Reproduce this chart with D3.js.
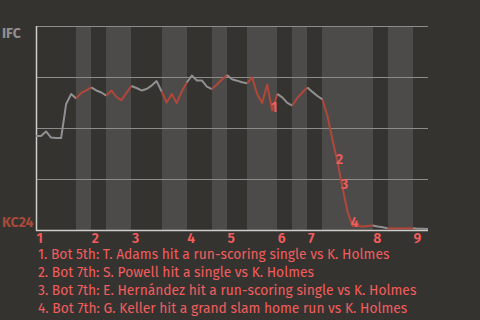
<!DOCTYPE html>
<html><head><meta charset="utf-8">
<script src="https://cdn.jsdelivr.net/npm/d3@7"></script>
<style>
html,body{margin:0;padding:0;background:#353330;}
svg{display:block;}
text{font-family:"Fira Sans","Lato","Open Sans",sans-serif;}
</style></head><body>
<svg id="c" width="480" height="320"></svg>
<script>
// IFC win probability after each plate appearance (top of chart = IFC wins)
const winProb = [0.461,0.461,0.483,0.453,0.451,0.451,0.618,0.667,0.645,0.672,
  0.684,0.699,0.684,0.674,0.659,0.684,0.652,0.637,0.672,0.706,
  0.696,0.684,0.691,0.708,0.730,0.679,0.625,0.667,0.623,0.679,
  0.723,0.757,0.733,0.733,0.703,0.691,0.713,0.738,0.760,0.739,
  0.732,0.724,0.719,0.748,0.667,0.623,0.713,0.586,0.667,0.650,
  0.623,0.610,0.647,0.674,0.699,0.677,0.657,0.640,0.559,0.441,
  0.333,0.206,0.088,0.020,0.020,0.017,0.020,0.022,0.017,0.013,
  0.008,0.008,0.008,0.008,0.008,0.008,0.006,0.006,0.005];
// plate-appearance index where each half inning starts (last = end of game)
const halfInningBreaks = [0,8,11,14,19,25,30,35,38,42,48,51,54,57,67,70,75,78];
const inningLabels = ["1","2","3","4","5","6","7","8","9"];
const yTicks = [0.25,0.5,0.75,1];
const teamTop = "IFC", teamBottom = "KC24";
const eventIdx = [47,60,61,63];
const eventNums = ["1","2","3","4"];
const eventTexts = [
  "1. Bot 5th: T. Adams hit a run-scoring single vs K. Holmes",
  "2. Bot 7th: S. Powell hit a single vs K. Holmes",
  "3. Bot 7th: E. Hernández hit a run-scoring single vs K. Holmes",
  "4. Bot 7th: G. Keller hit a grand slam home run vs K. Holmes"
];

const svg = d3.select("#c");
const L=36, R=428, T=26, B=230;
const x = d3.scaleLinear().domain([0, winProb.length-1]).range([L,R]);
const y = d3.scaleLinear().domain([0,1]).range([B,T]);

svg.append("rect").attr("width",480).attr("height",320).attr("fill","#353330");

// half-inning bands (bottom halves lighter)
const halves = d3.range(halfInningBreaks.length-1).map(k=>({s:halfInningBreaks[k],e:halfInningBreaks[k+1],bottom:k%2===1}));
svg.append("g").selectAll("rect").data(halves.filter(h=>h.bottom)).join("rect")
  .attr("x",d=>Math.round(x(d.s))).attr("width",d=>Math.round(x(d.e))-Math.round(x(d.s)))
  .attr("y",T).attr("height",B-T).attr("fill","#4d4b49");

// gridlines
svg.append("g").selectAll("line").data(yTicks).join("line")
  .attr("x1",L).attr("x2",R).attr("y1",d=>Math.round(y(d))+0.5).attr("y2",d=>Math.round(y(d))+0.5)
  .attr("stroke","#8e8c89").attr("stroke-width",1);

// axes
svg.append("line").attr("x1",L+0.5).attr("x2",L+0.5).attr("y1",T).attr("y2",B+1)
  .attr("stroke","#cfcdca").attr("stroke-width",1.5);
svg.append("line").attr("x1",L).attr("x2",R).attr("y1",B+0.5).attr("y2",B+0.5)
  .attr("stroke","#cfcdca").attr("stroke-width",1.5);

// win probability line, one path per half inning
const line = d3.line().x(i=>x(i)).y(i=>y(winProb[i]));
svg.append("g").selectAll("path").data(halves).join("path")
  .attr("d",d=>line(d3.range(d.s,d.e+1)))
  .attr("fill","none")
  .attr("stroke",d=>d.bottom?"#b0473a":"#8f9091")
  .attr("stroke-width",2).attr("stroke-linejoin","round");

// team labels
svg.append("text").attr("x",2).attr("y",y(1)+12).text(teamTop)
  .attr("fill","#8f8f8f").attr("font-weight","bold").attr("font-size",14);
svg.append("text").attr("x",2).attr("y",y(0)-3).text(teamBottom)
  .attr("fill","#a84a3a").attr("font-weight","bold").attr("font-size",14);

// inning labels
const inningStarts = halfInningBreaks.filter((d,k)=>k%2===0).slice(0,inningLabels.length);
svg.append("g").selectAll("text").data(inningLabels).join("text")
  .attr("x",(d,k)=>x(inningStarts[k])+0.5).attr("y",B+12.5)
  .text(d=>d).attr("fill","#f25d5d").attr("font-size",14).attr("font-weight","600");

// event markers
svg.append("g").selectAll("text").data(eventIdx).join("text")
  .attr("x",i=>x(i)+2).attr("y",i=>y(winProb[i])-3)
  .attr("text-anchor","middle").attr("dominant-baseline","central")
  .text((d,k)=>eventNums[k]).attr("fill","#f25d5d").attr("font-size",14).attr("font-weight","600");

// legend
svg.append("g").selectAll("text").data(eventTexts).join("text")
  .attr("x",38).attr("y",(d,k)=>259+k*18)
  .text(d=>d).attr("fill","#f25d5d").attr("font-size",13.8);
</script>
</body></html>
